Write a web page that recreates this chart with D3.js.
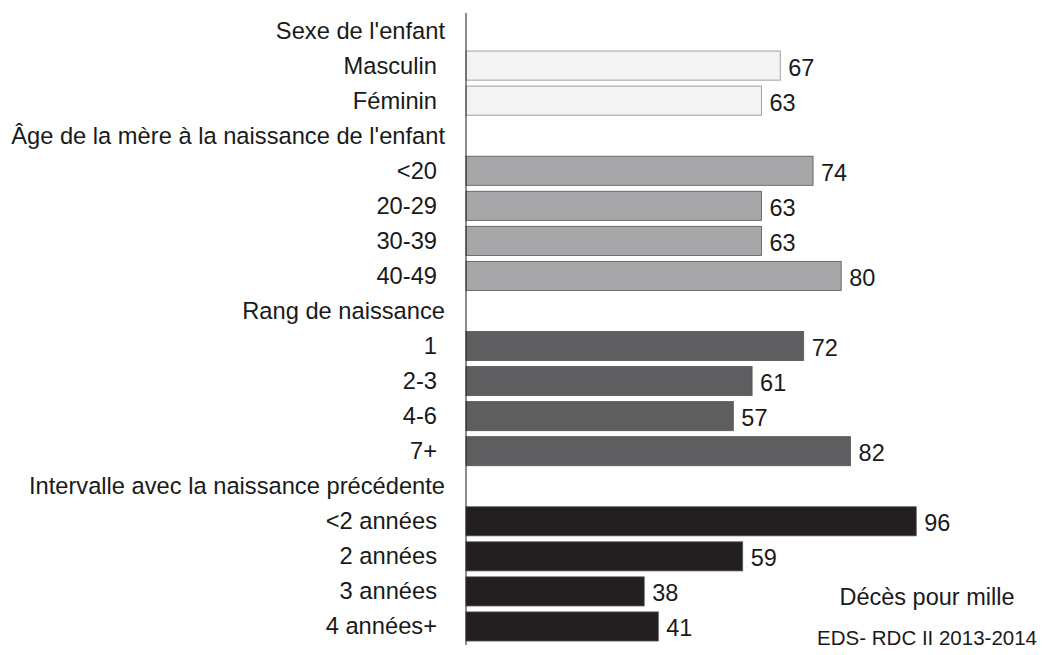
<!DOCTYPE html>
<html>
<head>
<meta charset="utf-8">
<script src="https://cdn.jsdelivr.net/npm/d3@7"></script>
<style>
  body { margin: 0; background: #fff; }
  text { font-family: "Liberation Sans", Arial, sans-serif; fill: #1a1a1a; }
</style>
</head>
<body>
<div id="chart"></div>
<script>
const groups = [
  "Sexe de l'enfant",
  "Âge de la mère à la naissance de l'enfant",
  'Rang de naissance',
  'Intervalle avec la naissance précédente'
]
const categories = [
  ['Masculin', 'Féminin'],
  ['<20', '20-29', '30-39', '40-49'],
  ['1', '2-3', '4-6', '7+'],
  ['<2 années', '2 années', '3 années', '4 années+']
]
const values = [
  [67, 63],
  [74, 63, 63, 80],
  [72, 61, 57, 82],
  [96, 59, 38, 41]
]
const groupColors = ['#f2f3f2', '#a7a7aa', '#5e5d5f', '#231f20']

const width = 1042
const height = 655
const axisX = 466

// one row per header and per bar
const rows = []
groups.forEach((g, gi) => {
  rows.push({ id: 'h' + gi, label: g, header: true, group: gi })
  categories[gi].forEach((c, ci) => {
    rows.push({ id: gi + '-' + ci, label: c, header: false, group: gi, value: values[gi][ci] })
  })
})

const x = d3.scaleLinear().domain([0, 100]).range([axisX, axisX + 469])
const y = d3.scaleBand()
  .domain(rows.map(d => d.id))
  .range([13, 644])
  .paddingInner(0.17)
  .paddingOuter(0.085)

const svg = d3.select('#chart').append('svg')
  .attr('width', width)
  .attr('height', height)

const bars = rows.filter(d => !d.header)

svg.append('g').selectAll('rect')
  .data(bars)
  .join('rect')
  .attr('x', x(0))
  .attr('y', d => y(d.id))
  .attr('width', d => x(d.value) - x(0))
  .attr('height', y.bandwidth())
  .attr('fill', d => groupColors[d.group])
  .attr('stroke', d => d.group === 0 ? '#8a8a8a' : '#555')
  .attr('stroke-width', 0.8)

// value labels
svg.append('g').selectAll('text')
  .data(bars)
  .join('text')
  .attr('x', d => x(d.value) + 8)
  .attr('y', d => y(d.id) + y.bandwidth() / 2 + 10)
  .attr('font-size', 23.5)
  .text(d => d.value)

// row labels
svg.append('g').selectAll('text')
  .data(rows)
  .join('text')
  .attr('x', d => d.header ? 445 : 437)
  .attr('y', d => y(d.id) + y.bandwidth() / 2 + 8)
  .attr('font-size', 23.7)
  .attr('text-anchor', 'end')
  .text(d => d.label)

// axis line
svg.append('line')
  .attr('x1', axisX).attr('x2', axisX)
  .attr('y1', 13).attr('y2', 645)
  .attr('stroke', '#1a1a1a')
  .attr('stroke-width', 1)

svg.append('text')
  .attr('x', 927)
  .attr('y', 605)
  .attr('text-anchor', 'middle')
  .attr('font-size', 23.5)
  .text('Décès pour mille')

svg.append('text')
  .attr('x', 1037)
  .attr('y', 645)
  .attr('text-anchor', 'end')
  .attr('font-size', 20.5)
  .text('EDS- RDC II 2013-2014')
</script>
</body>
</html>
